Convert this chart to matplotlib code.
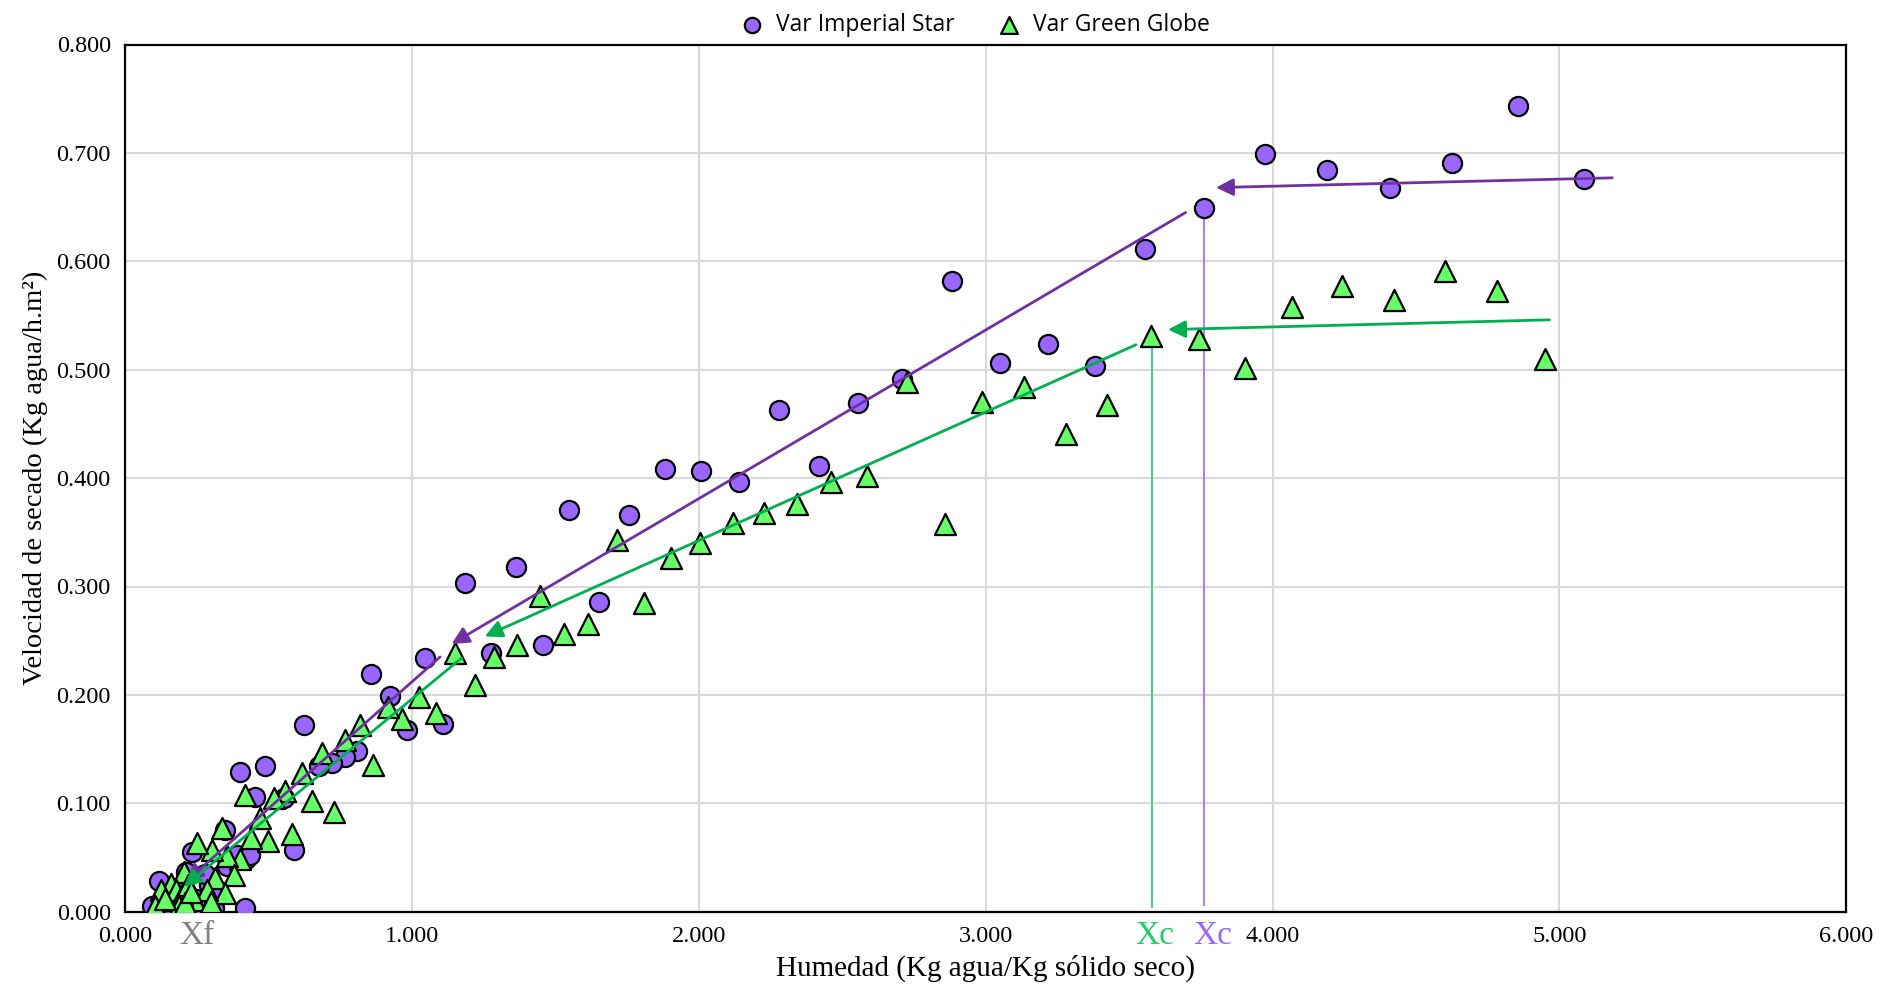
import matplotlib
matplotlib.use("Agg")
import matplotlib.pyplot as plt
from matplotlib.ticker import MultipleLocator, FormatStrFormatter

# Var Imperial Star: humedad (x) y velocidad de secado (y)
imp_x = [5.085, 4.857, 4.625, 4.410, 4.190, 3.975, 3.762, 3.557, 3.380, 3.216,
         3.051, 2.882, 2.709, 2.557, 2.279, 2.418, 2.140, 2.009, 1.882, 1.756,
         1.549, 1.654, 1.456, 1.363, 1.275, 1.186, 1.110, 1.047, 0.984, 0.924,
         0.857, 0.809, 0.768, 0.722, 0.676, 0.624, 0.589, 0.554, 0.490, 0.455,
         0.423, 0.403, 0.420, 0.351, 0.391, 0.437, 0.357, 0.293, 0.235, 0.212,
         0.119, 0.096, 0.160, 0.264, 0.310, 0.170, 0.140, 0.200, 0.250, 0.320,
         0.280]
imp_y = [0.676, 0.743, 0.691, 0.668, 0.684, 0.699, 0.649, 0.611, 0.503, 0.524,
         0.506, 0.582, 0.491, 0.469, 0.463, 0.411, 0.396, 0.407, 0.408, 0.366,
         0.371, 0.286, 0.246, 0.318, 0.239, 0.303, 0.173, 0.234, 0.168, 0.199,
         0.219, 0.148, 0.143, 0.137, 0.134, 0.172, 0.057, 0.105, 0.134, 0.106,
         0.049, 0.129, 0.003, 0.075, 0.052, 0.052, 0.042, 0.025, 0.055, 0.037,
         0.028, 0.005, 0.005, 0.003, 0.003, 0.015, 0.010, 0.020, 0.012, 0.020,
         0.035]

# Var Green Globe
gg_x = [4.950, 4.781, 4.600, 4.422, 4.241, 4.068, 3.903, 3.743, 3.578, 3.422,
        3.279, 3.135, 2.988, 2.857, 2.726, 2.587, 2.460, 2.342, 2.228, 2.119,
        2.005, 1.903, 1.811, 1.714, 1.616, 1.532, 1.448, 1.368, 1.287, 1.220,
        1.152, 1.085, 1.026, 0.967, 0.916, 0.867, 0.820, 0.768, 0.728, 0.687,
        0.652, 0.618, 0.583, 0.560, 0.520, 0.500, 0.470, 0.440, 0.420, 0.403,
        0.357, 0.340, 0.305, 0.252, 0.206, 0.316, 0.380, 0.350, 0.287, 0.160,
        0.125, 0.107, 0.171, 0.240, 0.300, 0.180, 0.200, 0.220, 0.190, 0.210,
        0.230, 0.140]
gg_y = [0.510, 0.573, 0.591, 0.564, 0.577, 0.558, 0.502, 0.528, 0.531, 0.467,
        0.441, 0.484, 0.470, 0.358, 0.489, 0.402, 0.396, 0.376, 0.368, 0.359,
        0.340, 0.326, 0.285, 0.343, 0.265, 0.256, 0.291, 0.246, 0.235, 0.209,
        0.239, 0.183, 0.198, 0.178, 0.189, 0.135, 0.172, 0.158, 0.092, 0.146,
        0.102, 0.128, 0.072, 0.111, 0.105, 0.065, 0.086, 0.068, 0.108, 0.049,
        0.051, 0.077, 0.057, 0.063, 0.037, 0.031, 0.034, 0.017, 0.020, 0.026,
        0.020, 0.005, 0.011, 0.011, 0.009, 0.020, 0.015, 0.025, 0.005, 0.008,
        0.018, 0.012]

# tramos de tendencia (x0, y0) -> (x1, y1)
imp_tramos = [((5.184, 0.677), (3.803, 0.668)),
              ((3.697, 0.645), (1.139, 0.247)),
              ((1.099, 0.235), (0.214, 0.028))]
gg_tramos = [((4.965, 0.546), (3.636, 0.537)),
             ((3.524, 0.523), (1.255, 0.254)),
             ((1.174, 0.234), (0.206, 0.023))]

# humedad critica de cada variedad
xc_gg, yc_gg = 3.579, 0.531
xc_imp, yc_imp = 3.762, 0.648

plt.rcParams['font.family'] = ['Liberation Serif', 'DejaVu Serif']

fig = plt.figure(figsize=(19.01, 10.0), dpi=100)
ax = fig.add_axes([0.0656, 0.0883, 0.9057, 0.8672])

ax.scatter(imp_x, imp_y, s=190, marker='o', facecolor='#9966FF',
           edgecolor='black', linewidth=1.6, zorder=3, label='Var Imperial Star')
ax.scatter(gg_x, gg_y, s=230, marker='^', facecolor='#66FF66',
           edgecolor='black', linewidth=1.6, zorder=4, label='Var Green Globe')

for (a, b) in imp_tramos:
    ax.annotate('', xy=b, xytext=a, zorder=5,
                arrowprops=dict(arrowstyle='-|>', color='#7030A0', lw=2.0,
                                mutation_scale=26, shrinkA=0, shrinkB=0))
for (a, b) in gg_tramos:
    ax.annotate('', xy=b, xytext=a, zorder=5,
                arrowprops=dict(arrowstyle='-|>', color='#00B050', lw=2.0,
                                mutation_scale=26, shrinkA=0, shrinkB=0))

ax.plot([xc_gg, xc_gg], [0.004, yc_gg], color='#22CC66', lw=1.2, zorder=2)
ax.plot([xc_imp, xc_imp], [0.006, yc_imp], color='#9966FF', lw=1.2, zorder=2)

ax.set_xlim(0, 6)
ax.set_ylim(0, 0.8)
ax.xaxis.set_major_locator(MultipleLocator(1))
ax.yaxis.set_major_locator(MultipleLocator(0.1))
ax.xaxis.set_major_formatter(FormatStrFormatter('%.3f'))
ax.yaxis.set_major_formatter(FormatStrFormatter('%.3f'))
ax.tick_params(length=0, labelsize=17.5, pad=10)
ax.grid(True, color='#D9D9D9', lw=1.5, zorder=0)
ax.set_axisbelow(True)
for s in ax.spines.values():
    s.set_linewidth(1.6)

ax.set_xlabel('Humedad (Kg agua/Kg sólido seco)', fontsize=21, labelpad=6)
ax.set_ylabel('Velocidad de secado (Kg agua/h.m²)', fontsize=20.5, labelpad=6)

# etiquetas Xf / Xc debajo del eje
ax.text(0.25, -0.008, 'Xf', color='#808080', fontsize=24, ha='center', va='top')
ax.text(xc_gg + 0.01, -0.008, 'Xc', color='#22CC66', fontsize=24, ha='center', va='top')
ax.text(xc_imp + 0.03, -0.008, 'Xc', color='#9966FF', fontsize=24, ha='center', va='top')

fig.legend(loc='upper center', bbox_to_anchor=(0.51, 1.008), ncol=2, frameon=False,
           prop={'family': 'Open Sans', 'size': 16.5}, handletextpad=0.05,
           columnspacing=1.4, markerscale=0.8)

fig.savefig('out.png', dpi=100)
